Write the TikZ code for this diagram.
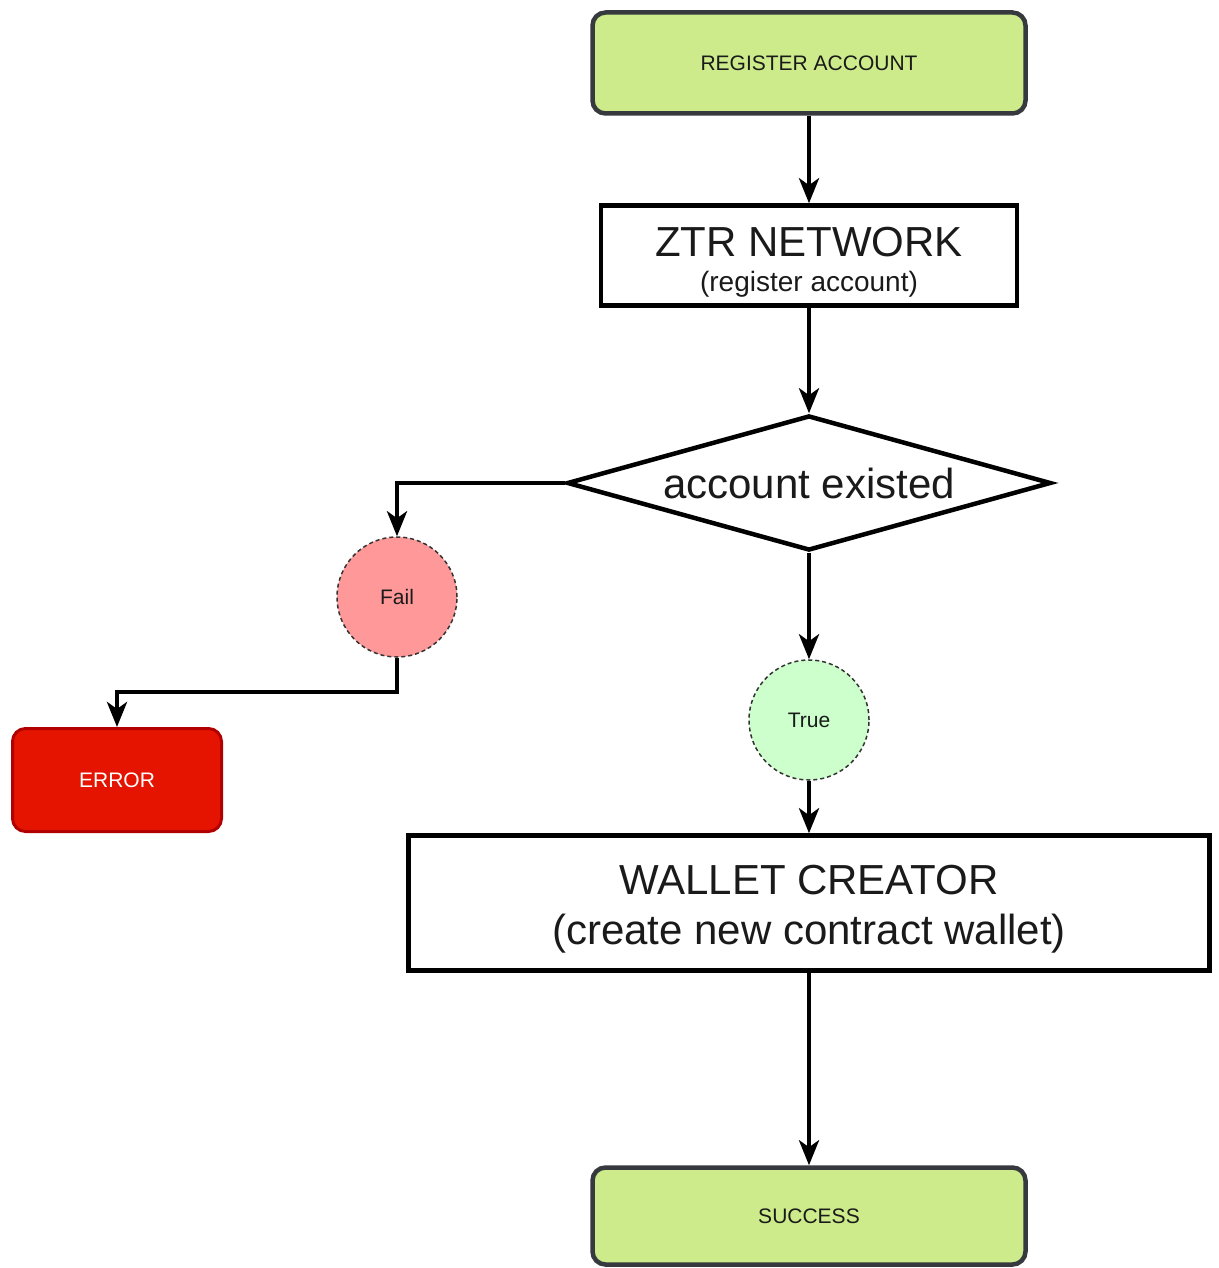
\documentclass[tikz,border=0pt]{standalone}
\usepackage{fontspec}
\setmainfont{Liberation Sans}
\usetikzlibrary{shapes.geometric,arrows.meta}
\definecolor{termfill}{HTML}{CDEB8B}
\definecolor{termdraw}{HTML}{36393D}
\definecolor{failfill}{HTML}{FF9999}
\definecolor{truefill}{HTML}{CCFFCC}
\definecolor{errfill}{HTML}{E51400}
\definecolor{errdraw}{HTML}{B20000}
\definecolor{txt}{HTML}{1A1A1A}
\newcommand{\padtop}[2]{\raisebox{0pt}[\dimexpr\height+#1\relax]{#2}}
\tikzset{
  terminal/.style={draw=termdraw, fill=termfill, line width=4.5pt, rounded corners=13pt,
    minimum width=433pt, minimum height=101pt, inner sep=0pt, text=txt,
    font=\fontsize{21}{25}\selectfont},
  process/.style={draw=black, line width=4.5pt, inner sep=0pt, align=center, text=txt},
  decision/.style={draw=black, line width=4.5pt, diamond, aspect=3.57, inner sep=0pt,
    minimum width=484pt, minimum height=135pt, text=txt, font=\fontsize{42}{50}\selectfont},
  result/.style={circle, draw=black!80, dashed, dash pattern=on 4pt off 3pt, line width=1.5pt,
    minimum size=120pt, inner sep=0pt, text=txt, font=\fontsize{21}{25}\selectfont},
  errorbox/.style={draw=errdraw, fill=errfill, line width=3pt, rounded corners=13pt,
    minimum width=209pt, minimum height=103pt, inner sep=0pt, text=white,
    font=\fontsize{21}{25}\selectfont},
  conn/.style={draw=black, line width=4.5pt, -{Stealth[length=25pt,width=20pt,inset=7pt]}}
}
\begin{document}
\begin{tikzpicture}[x=1pt,y=-1pt]
\useasboundingbox (0,0) rectangle (1218,1268);
\node[terminal] (reg) at (809,63) {REGISTER ACCOUNT};
\node[process, minimum width=416pt, minimum height=100pt, font=\fontsize{28}{35}\selectfont] (ztr) at (809,255.5)
  {\padtop{14pt}{\fontsize{42}{42}\selectfont ZTR NETWORK}\\(register account)};
\node[decision] (dec) at (809,483) {account existed};
\node[result, fill=failfill] (fail) at (397,597) {Fail};
\node[result, fill=truefill] (true) at (809,720) {True};
\node[errorbox] (err) at (117,780) {ERROR};
\node[process, minimum width=801pt, minimum height=135pt, font=\fontsize{42}{50}\selectfont] (wal) at (809,903)
  {\padtop{12pt}{WALLET CREATOR}\\(create new contract wallet)};
\node[terminal, minimum height=97pt] (suc) at (809,1216) {SUCCESS};
\coordinate (fk) at (397,692);
\draw[conn] (reg) -- (ztr);
\draw[conn] (ztr) -- (dec);
\draw[conn] (dec.west) -| (fail.north);
\draw[conn] (fail.south) -- (fk) -| (err.north);
\draw[conn] (dec.south) -- (true.north);
\draw[conn] (true.south) -- (wal.north);
\draw[conn] (wal.south) -- (suc.north);
\end{tikzpicture}
\end{document}
